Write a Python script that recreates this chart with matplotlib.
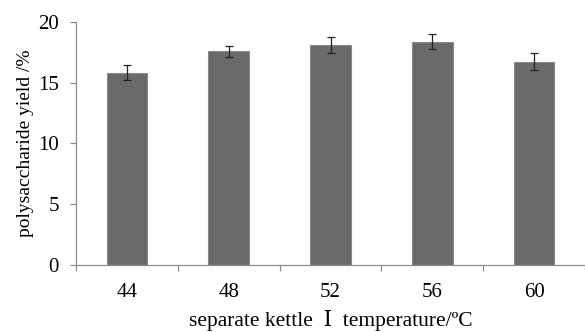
import numpy as np
import matplotlib.pyplot as plt

temps = ['44', '48', '52', '56', '60']
yield_pct = [15.83, 17.58, 18.1, 18.38, 16.74]
yield_err = [0.65, 0.46, 0.64, 0.63, 0.67]

plt.rcParams['font.family'] = ['Liberation Serif', 'DejaVu Serif']

fig = plt.figure(figsize=(5.85, 3.32), dpi=100)
ax = fig.add_axes([0.130, 0.202, 0.870, 0.732])

x = np.arange(len(temps))
ax.bar(x, yield_pct, width=0.4, color='#6a6a6a', edgecolor='#8a8a8a', linewidth=0.8,
       yerr=yield_err, capsize=3, error_kw=dict(ecolor='#222222', elinewidth=0.9, capthick=0.9))

ax.set_xlim(-0.5, len(temps) - 0.5)
ax.set_ylim(0, 20)
ax.set_yticks([0, 5, 10, 15, 20])
ax.set_xticks(x)
ax.set_xticklabels(temps)
ax.set_xticks(np.arange(-0.5, len(temps)), minor=True)

for side in ['top', 'right']:
    ax.spines[side].set_visible(False)
for side in ['left', 'bottom']:
    ax.spines[side].set_color('#8c8c8c')
    ax.spines[side].set_linewidth(0.9)

ax.tick_params(axis='x', which='major', length=0, labelsize=15, pad=13)
ax.tick_params(axis='x', which='minor', length=4, color='#8c8c8c', width=0.9)
ax.tick_params(axis='y', length=4.5, color='#8c8c8c', width=0.9, labelsize=15, pad=8)

ax.set_xlabel('separate kettle  Ⅰ  temperature/ºC', fontsize=15.5, labelpad=6)
ax.set_ylabel('polysaccharide yield /%', fontsize=14, labelpad=3)

fig.savefig('out.png', dpi=100)
